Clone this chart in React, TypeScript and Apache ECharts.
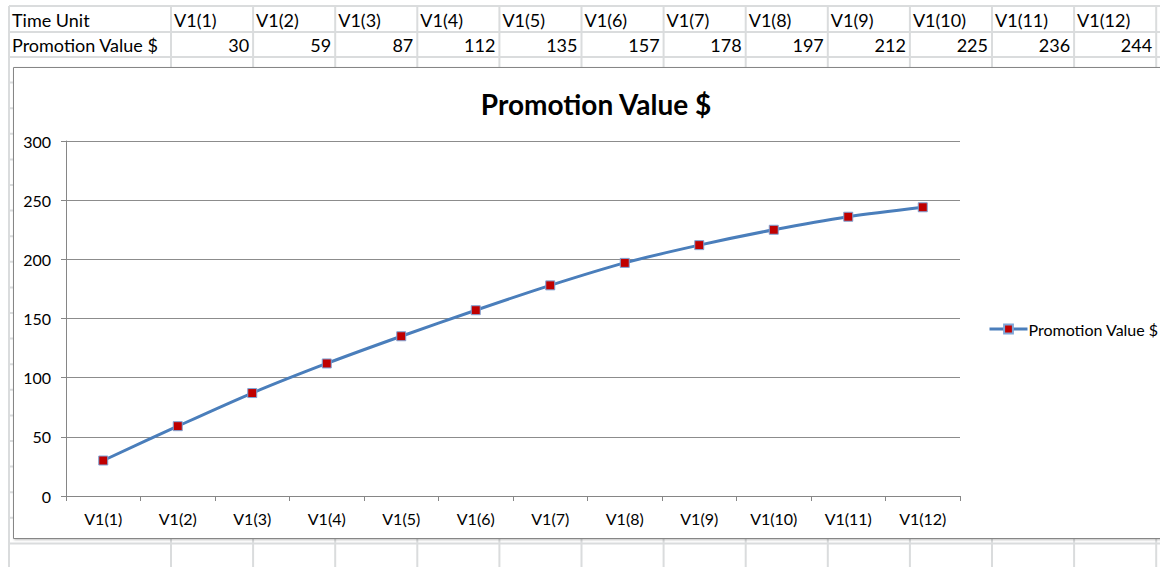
import React, { useEffect, useRef } from "react";
import * as echarts from "echarts";

const categories = ["V1(1)", "V1(2)", "V1(3)", "V1(4)", "V1(5)", "V1(6)", "V1(7)", "V1(8)", "V1(9)", "V1(10)", "V1(11)", "V1(12)"];
const values = [30, 59, 87, 112, 135, 157, 178, 197, 212, 225, 236, 244];
const rowHeaders = ["Time Unit", "Promotion Value $"];
const seriesName = "Promotion Value $";
const titleText = "Promotion Value $";

const FONT = "Lato, 'Noto Sans', sans-serif";
const W = 1160;
const H = 567;

export default function App() {
  const ref = useRef<HTMLDivElement>(null);

  useEffect(() => {
    if (!ref.current) return;
    const chart = echarts.init(ref.current, null, { renderer: "svg", width: W, height: H });

    // spreadsheet layout
    const gridLeft = 9;
    const firstColEnd = 171;
    const colW = 82.1;
    const colXs: number[] = [gridLeft, firstColEnd];
    for (let i = 1; i <= categories.length; i++) colXs.push(firstColEnd + i * colW);
    const rowYs: number[] = [6, 32, 57];
    for (let y = 57 + 25.6; y < H + 30; y += 25.6) rowYs.push(y);

    const gridColor = "#dadcdd";
    const g: any[] = [];
    colXs.forEach((x) => {
      g.push({ type: "line", z: -10, shape: { x1: x, y1: 6, x2: x, y2: H }, style: { stroke: gridColor, lineWidth: 2 } });
    });
    rowYs.forEach((y) => {
      g.push({ type: "line", z: -10, shape: { x1: gridLeft, y1: y, x2: W, y2: y }, style: { stroke: gridColor, lineWidth: 2 } });
    });
    // table texts
    const row1Y = 20;
    const row2Y = 45;
    const cellFont = `18px ${FONT}`;
    g.push({ type: "text", z: -5, x: 12, y: row1Y, style: { text: rowHeaders[0], font: cellFont, fill: "#000", verticalAlign: "middle" } });
    g.push({ type: "text", z: -5, x: 12, y: row2Y, style: { text: rowHeaders[1], font: cellFont, fill: "#000", verticalAlign: "middle" } });
    categories.forEach((c, i) => {
      const x0 = colXs[i + 1];
      const x1 = colXs[i + 2];
      g.push({ type: "text", z: -5, x: x0 + 3, y: row1Y, style: { text: c, font: cellFont, fill: "#000", verticalAlign: "middle" } });
      g.push({ type: "text", z: -5, x: x1 - 4, y: row2Y, style: { text: String(values[i]), font: cellFont, fill: "#000", verticalAlign: "middle", align: "right" } });
    });
    // chart area
    g.push({
      type: "rect",
      z: -4,
      shape: { x: 13.5, y: 67.5, width: 1200, height: 471 },
      style: { fill: "#fff", stroke: "#868686", lineWidth: 1, shadowBlur: 2, shadowColor: "rgba(0,0,0,0.25)", shadowOffsetX: 1, shadowOffsetY: 1 },
    });

    chart.setOption({
      animation: false,
      backgroundColor: "#fff",
      title: {
        text: titleText,
        left: 591,
        top: 85,
        textAlign: "center",
        textStyle: { fontFamily: FONT, fontSize: 28, fontWeight: "bold", color: "#000" },
      },
      graphic: { elements: g },
      legend: {
        data: [seriesName],
        left: 983,
        top: 316,
        itemWidth: 38,
        itemHeight: 11,
        itemGap: 2,
        lineStyle: { width: 3 },
        textStyle: { fontFamily: FONT, fontSize: 16, color: "#000", padding: [0, 0, 0, -4] },
      },
      grid: { left: 66, right: W - 960, top: 141, bottom: H - 496, containLabel: false },
      xAxis: {
        type: "category",
        data: categories,
        boundaryGap: true,
        axisLine: { show: true, lineStyle: { color: "#868686", width: 1 } },
        axisTick: { show: true, length: 5, lineStyle: { color: "#868686" } },
        axisLabel: { fontFamily: FONT, fontSize: 16, color: "#000", margin: 14 },
        splitLine: { show: false },
      },
      yAxis: {
        type: "value",
        min: 0,
        max: 300,
        interval: 50,
        axisLine: { show: true, lineStyle: { color: "#868686", width: 1 } },
        axisTick: { show: true, length: 5, lineStyle: { color: "#868686" } },
        axisLabel: { fontFamily: FONT, fontSize: 16, color: "#000", margin: 15 },
        splitLine: { show: true, lineStyle: { color: "#8c8c8c", width: 1 } },
      },
      series: [
        {
          name: seriesName,
          type: "line",
          data: values,
          smooth: 0.3,
          symbol: "rect",
          symbolSize: 9,
          showSymbol: true,
          lineStyle: { color: "#4a7ebb", width: 3 },
          itemStyle: { color: "#c00000", borderColor: "#7fa6d8", borderWidth: 1 },
          z: 3,
        },
      ],
    });

    return () => chart.dispose();
  }, []);

  return <div ref={ref} style={{ position: "fixed", left: 0, top: 0, width: W, height: H, background: "#fff" }} />;
}
